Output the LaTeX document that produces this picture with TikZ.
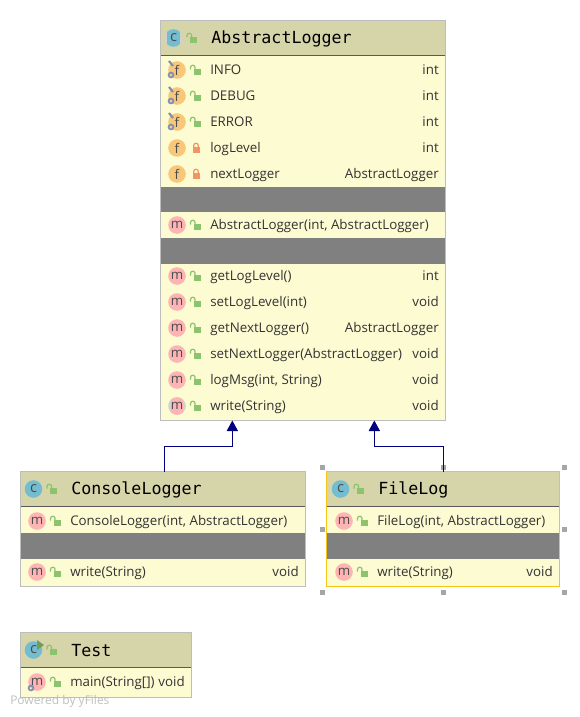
\documentclass[tikz,border=0pt]{standalone}
\usepackage{fontspec}
\setmainfont{Open Sans}
\newfontfamily\titlefont{DejaVu Sans Mono}
\usepackage{xcolor}
\usetikzlibrary{arrows.meta,positioning,calc}

\definecolor{boxfill}{HTML}{FDFBD2}
\definecolor{headfill}{HTML}{D6D4A9}
\definecolor{boxline}{HTML}{BDBDBD}
\definecolor{band}{HTML}{808080}
\definecolor{goldline}{HTML}{F5C518}
\definecolor{linkblue}{HTML}{000080}
\definecolor{lockgreen}{HTML}{8CC46E}
\definecolor{lockred}{HTML}{F29463}
\definecolor{fieldmark}{HTML}{F8C77A}
\definecolor{methodmark}{HTML}{FFB4B4}
\definecolor{classmark}{HTML}{74BDD0}
\definecolor{pinmark}{HTML}{7F8FB0}

\tikzset{
  lockopen/.pic={
    \fill[lockgreen] (-2.5,-1) rectangle (4.5,5);
    \draw[lockgreen, line width=0.9pt] (-5.5,-0.5) -- (-5.5,-2.5) arc (180:360:2.3) -- (-1,-1);
  },
  lockshut/.pic={
    \fill[lockred] (-3.5,-1) rectangle (3.5,5);
    \draw[lockred, line width=0.9pt] (-2.3,-1) -- (-2.3,-2.5) arc (180:360:2.3) -- (2.3,-1);
  },
  staticpin/.pic={
    \draw[pinmark, line width=1.6pt] (-8,-9) -- (-4,-4);
    \draw[pinmark, line width=1.3pt] (-6,5) circle (2.4);
  }
}

\newcommand{\memberrow}[8]{%
  \node[#5, name=#1icon, at={(#2+17,#4)}];
  \pic at (#2+36,#4) {#6};
  \node[memberlabel, anchor=west] (#1name) at (#2+50,#4+1.5) {#7};
  \node[memberlabel, anchor=east] (#1type) at (#3-6,#4+1.5) {#8};
}
\newcommand{\classhead}[5]{%
  \node[#3] (#1icon) at (#2+13.5,#4) {c};
  \pic at (#2+32.5,#4) {lockopen};
  \node[classtitle, anchor=west] (#1title) at (#2+51,#4+1) {#5};
}

\begin{document}
\begin{tikzpicture}[
  x=0.75pt, y=-0.75pt,
  classbox/.style={draw=boxline, fill=boxfill, line width=0.75pt, anchor=north west, inner sep=0pt, outer sep=0pt},
  headbar/.style={fill=headfill},
  rule/.style={draw=black!65, line width=0.75pt},
  bandbar/.style={fill=band},
  markbase/.style={circle, minimum size=13.2pt, inner sep=0pt, font=\fontsize{10}{10}\selectfont, text=black!70},
  classicon/.style={markbase, fill=classmark, font=\fontsize{11}{11}\selectfont},
  abstractclass/.style={classicon, fill=black!18, path picture={\fill[classmark] (path picture bounding box.center) ++(-4.6pt,-7pt) rectangle ++(9.2pt,14pt);}},
  fieldicon/.style={markbase, fill=fieldmark, node contents=f},
  methodicon/.style={markbase, fill=methodmark, node contents=m},
  abstracticon/.style={markbase, fill=black!18, path picture={\fill[methodmark] (path picture bounding box.center) ++(-4.2pt,-7pt) rectangle ++(8.4pt,14pt);}, node contents=m},
  memberlabel/.style={inner sep=0pt, text height=7.6pt, text depth=2.4pt, font=\fontsize{10}{12}\selectfont, text=black!80},
  classtitle/.style={inner sep=0pt, font=\titlefont\fontsize{12.5}{14}\selectfont, text=black},
  handle/.style={fill=black!35, minimum size=3.75pt, inner sep=0pt},
  arr/.style={-{Triangle[length=8pt, width=8.5pt, fill=linkblue]}, draw=linkblue, line width=0.75pt}
]
\useasboundingbox (0,0) rectangle (580,717);

% AbstractLogger
\node[classbox, minimum width=213.75pt, minimum height=300pt] (abstract) at (160.5,20.5) {};
\fill[headbar] (161,21) rectangle (445,55);
\draw[rule] (161,55.5) -- (445,55.5);
\fill[bandbar] (161,187) rectangle (445,212);
\fill[bandbar] (161,238) rectangle (445,264);
\classhead{abstract}{160}{abstractclass}{38}{AbstractLogger}
\foreach \y/\label in {70/INFO,96/DEBUG,122/ERROR} {
  \memberrow{f\y}{160}{445}{\y}{fieldicon}{lockopen}{\label}{int}
  \pic at (177,\y) {staticpin};
}
\memberrow{level}{160}{445}{148}{fieldicon}{lockshut}{logLevel}{int}
\memberrow{next}{160}{445}{174}{fieldicon}{lockshut}{nextLogger}{AbstractLogger}
\memberrow{ctor}{160}{445}{225}{methodicon}{lockopen}{AbstractLogger(int, AbstractLogger)}{}
\foreach \y/\label/\kind in {276/getLogLevel()/int,302/setLogLevel(int)/void,328/getNextLogger()/AbstractLogger,354/setNextLogger(AbstractLogger)/void,380/{logMsg(int, String)}/void} {
  \memberrow{m\y}{160}{445}{\y}{methodicon}{lockopen}{\label}{\kind}
}
\memberrow{write}{160}{445}{406}{abstracticon}{lockopen}{write(String)}{void}

% ConsoleLogger
\node[classbox, minimum width=213.75pt, minimum height=86.25pt] (console) at (20.5,471.5) {};
\fill[headbar] (21,472) rectangle (305,506);
\draw[rule] (21,506.5) -- (305,506.5);
\fill[bandbar] (21,533) rectangle (305,559);
\classhead{console}{20}{classicon}{489}{ConsoleLogger}
\memberrow{cctor}{20}{305}{521}{methodicon}{lockopen}{ConsoleLogger(int, AbstractLogger)}{}
\memberrow{cwrite}{20}{305}{572}{methodicon}{lockopen}{write(String)}{void}

% FileLog
\node[classbox, draw=goldline, minimum width=174.75pt, minimum height=86.25pt] (filelog) at (326.5,471.5) {};
\fill[headbar] (327,472) rectangle (559,506);
\draw[rule] (327,506.5) -- (559,506.5);
\fill[bandbar] (327,533) rectangle (559,559);
\classhead{filelog}{327}{classicon}{489}{FileLog}
\memberrow{fctor}{327}{559}{521}{methodicon}{lockopen}{FileLog(int, AbstractLogger)}{}
\memberrow{fwrite}{327}{559}{572}{methodicon}{lockopen}{write(String)}{void}
\foreach \x/\y [count=\i] in {322/467,443/467,564/467,322/529,564/529,322/592,443/592,564/592}
  \node[handle] (handle\i) at (\x,\y) {};

% Test
\node[classbox, minimum width=128.25pt, minimum height=48.75pt] (test) at (20.5,632.5) {};
\fill[headbar] (21,633) rectangle (191,667);
\draw[rule] (21,667.5) -- (191,667.5);
\classhead{test}{20}{classicon}{650}{Test}
\fill[lockgreen!80!black] (37,640) -- (44,645) -- (37,650) -- cycle;
\memberrow{main}{20}{191}{682}{methodicon}{lockopen}{main(String[])}{void}
\draw[pinmark, line width=1.3pt] (31,688) circle (2.4);
\node[anchor=west, inner sep=0pt, text=black!25, font=\fontsize{9}{10}\selectfont] (powered) at (10,701) {Powered by yFiles};

\draw[arr] ([xshift=1pt]console.north) -- ++(0,-25) -| ([xshift=-53pt]abstract.south);
\draw[arr] (filelog.north) -- ++(0,-25) -| ([xshift=53.5pt]abstract.south);
\end{tikzpicture}
\end{document}
